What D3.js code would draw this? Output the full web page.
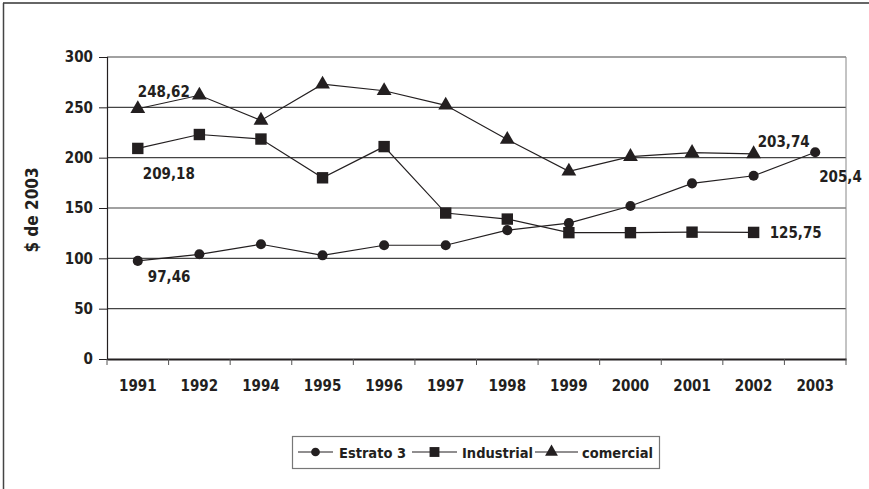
<!DOCTYPE html>
<html>
<head>
<meta charset="utf-8">
<script src="https://cdn.jsdelivr.net/npm/d3@7"></script>
<style>
  body { margin: 0; background: #fff; }
  text { font-family: "Liberation Sans Narrow", "Arial Narrow", "DejaVu Sans Condensed", sans-serif; font-stretch: condensed; font-weight: bold; fill: #231f20; }
</style>
</head>
<body>
<script>
var years = ["1991", "1992", "1994", "1995", "1996", "1997", "1998", "1999", "2000", "2001", "2002", "2003"];
var estrato3 = [97.46, 104, 114, 103, 113, 113, 128, 135, 152, 174.5, 182, 205.4];
var industrial = [209.18, 223, 218.5, 180, 211, 145, 139, 125.5, 125.5, 126, 125.75, null];
var comercial = [248.62, 262, 237, 273, 266.5, 252, 218, 186.5, 201, 205, 203.74, null];
var yTicks = [0, 50, 100, 150, 200, 250, 300];

// point labels, offsets from the marker
var labels = [
  { s: "comercial", i: 0, text: "248,62", dx: 0, dy: -12 },
  { s: "industrial", i: 0, text: "209,18", dx: 5, dy: 31 },
  { s: "estrato3", i: 0, text: "97,46", dx: 10, dy: 21 },
  { s: "comercial", i: 10, text: "203,74", dx: 4, dy: -7 },
  { s: "estrato3", i: 11, text: "205,4", dx: 4, dy: 30 },
  { s: "industrial", i: 10, text: "125,75", dx: 16, dy: 6 }
];

var W = 869, H = 489;
var mLeft = 107, mRight = 846, mTop = 57, mBottom = 359;
var ink = "#231f20";

var svg = d3.select("body").append("svg")
  .attr("width", W)
  .attr("height", H);

// outer frame (only top and left visible)
svg.append("line").attr("x1", 3).attr("x2", W).attr("y1", 3).attr("y2", 3)
  .attr("stroke", "#333").attr("stroke-width", 1.5);
svg.append("line").attr("x1", 3.5).attr("x2", 3.5).attr("y1", 3).attr("y2", H)
  .attr("stroke", "#444").attr("stroke-width", 1.5);

var x = d3.scaleBand().domain(years).range([mLeft, mRight]);
var y = d3.scaleLinear().domain([0, 300]).range([mBottom, mTop]);

// grid lines
svg.append("g").selectAll("line").data(yTicks.slice(1)).enter().append("line")
  .attr("x1", mLeft).attr("x2", mRight)
  .attr("y1", function(d){ return y(d); })
  .attr("y2", function(d){ return y(d); })
  .attr("stroke", "#444").attr("stroke-width", 1.1);

// right border of plot area
svg.append("line").attr("x1", mRight).attr("x2", mRight).attr("y1", mTop).attr("y2", mBottom)
  .attr("stroke", "#888").attr("stroke-width", 1);

// y axis
var yAxis = svg.append("g")
  .attr("transform", "translate(" + mLeft + ",0)")
  .call(d3.axisLeft(y).tickValues(yTicks).tickSize(8).tickPadding(6));
yAxis.select(".domain").attr("stroke", ink).attr("stroke-width", 1.2);
yAxis.selectAll(".tick line").attr("stroke", ink);
yAxis.selectAll("text").style("font-size", "15px").attr("fill", ink);

// x axis
var xAxis = svg.append("g")
  .attr("transform", "translate(0," + mBottom + ")")
  .call(d3.axisBottom(x).tickSize(0).tickPadding(21));
xAxis.select(".domain").attr("stroke", ink).attr("stroke-width", 2);
xAxis.selectAll("text").style("font-size", "15px").attr("fill", ink);
// tick marks at band boundaries
svg.append("g").selectAll("line").data(years.concat(["end"])).enter().append("line")
  .attr("x1", function(d, i){ return mLeft + i * x.step(); })
  .attr("x2", function(d, i){ return mLeft + i * x.step(); })
  .attr("y1", mBottom).attr("y2", mBottom + 6)
  .attr("stroke", "#555").attr("stroke-width", 1);

// y title
svg.append("text")
  .attr("transform", "translate(38,210) rotate(-90)")
  .attr("text-anchor", "middle")
  .style("font-size", "17px")
  .text("$ de 2003");

var series = [
  { key: "estrato3", name: "Estrato 3", values: estrato3, shape: d3.symbolCircle, size: 80 },
  { key: "industrial", name: "Industrial", values: industrial, shape: d3.symbolSquare, size: 130 },
  { key: "comercial", name: "comercial", values: comercial, shape: d3.symbolTriangle, size: 95 }
];

var cx = function(i){ return x(years[i]) + x.bandwidth() / 2; };

var line = d3.line()
  .defined(function(d){ return d != null; })
  .x(function(d, i){ return cx(i); })
  .y(function(d){ return y(d); });

series.forEach(function(s){
  svg.append("path")
    .datum(s.values)
    .attr("d", line)
    .attr("fill", "none")
    .attr("stroke", ink)
    .attr("stroke-width", 1.2);

  svg.append("g").selectAll("path")
    .data(s.values.map(function(v, i){ return { v: v, i: i }; }).filter(function(d){ return d.v != null; }))
    .enter().append("path")
    .attr("d", d3.symbol().type(s.shape).size(s.size))
    .attr("transform", function(d){ return "translate(" + cx(d.i) + "," + y(d.v) + ")"; })
    .attr("fill", ink);
});

var lookup = { estrato3: estrato3, industrial: industrial, comercial: comercial };
svg.append("g").selectAll("text").data(labels).enter().append("text")
  .attr("x", function(d){ return cx(d.i) + d.dx; })
  .attr("y", function(d){ return y(lookup[d.s][d.i]) + d.dy; })
  .style("font-size", "15px")
  .text(function(d){ return d.text; });

// legend
var lg = svg.append("g");
lg.append("rect").attr("x", 292.5).attr("y", 436.5).attr("width", 367).attr("height", 32)
  .attr("fill", "#fff").attr("stroke", "#777").attr("stroke-width", 1.2);
var legendPos = [
  { x1: 298, x2: 333, tx: 339 },
  { x1: 412, x2: 457, tx: 462 },
  { x1: 535, x2: 578, tx: 582 }
];
series.forEach(function(s, k){
  var p = legendPos[k];
  lg.append("line").attr("x1", p.x1).attr("x2", p.x2).attr("y1", 452).attr("y2", 452)
    .attr("stroke", ink).attr("stroke-width", 1.2);
  lg.append("path").attr("d", d3.symbol().type(s.shape).size(s.size * 0.75))
    .attr("transform", "translate(" + ((p.x1 + p.x2) / 2 + (k === 2 ? -5 : 0)) + ",452)")
    .attr("fill", ink);
  lg.append("text").attr("x", p.tx).attr("y", 458).style("font-size", "14.5px").text(s.name);
});
</script>
</body>
</html>
